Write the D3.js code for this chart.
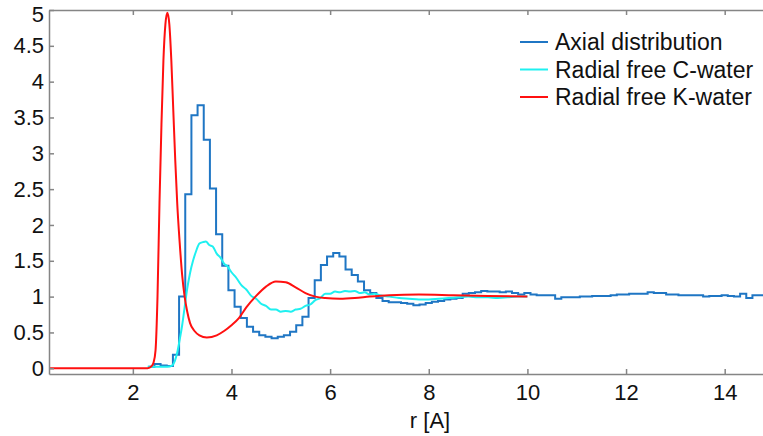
<!DOCTYPE html>
<html>
<head>
<meta charset="utf-8">
<script src="https://cdn.jsdelivr.net/npm/d3@7/dist/d3.min.js"></script>
<style>
  body { margin: 0; background: #fff; }
  text { font-family: "Liberation Sans", Arial, sans-serif; fill: #111; }
</style>
</head>
<body>
<script>
'use strict'

var w = 763;
var h = 436;

// axis ticks
var xTicks = [2, 4, 6, 8, 10, 12, 14];
var yTicks = [0, 0.5, 1, 1.5, 2, 2.5, 3, 3.5, 4, 4.5, 5];

// axial distribution: histogram, first bin edge and bin width
var axialStart = 2.3125;
var axialBin = 0.125;
var axialValues = [
  0.02, 0.06, 0.04, 0.03,
  0.19, 1.0, 2.43, 3.53, 3.67, 3.19, 2.51, 1.87, 1.43, 1.09,
  0.86, 0.70, 0.58, 0.51, 0.46, 0.44, 0.42, 0.44, 0.46, 0.51,
  0.60, 0.72, 0.98, 1.23, 1.44, 1.56, 1.61, 1.56, 1.38, 1.30,
  1.21, 1.09, 1.05, 0.98, 0.94, 0.92,
  0.92, 0.91, 0.90, 0.88, 0.89, 0.91, 0.93, 0.94, 0.96, 0.97,
  0.98, 1.04, 1.05, 1.06, 1.08, 1.07, 1.07, 1.06, 1.07, 1.05,
  1.03, 1.05, 1.03,
  1.02, 1.02, 1.02, 0.97, 0.99, 0.99, 0.99, 1.0, 1.0, 1.01,
  1.01, 1.01, 1.02, 1.03, 1.03, 1.04, 1.04, 1.04, 1.06, 1.05,
  1.05, 1.03, 1.03, 1.02, 1.02, 1.02, 1.02, 1.0, 1.01, 1.01,
  1.02, 1.01, 1.0, 1.04, 0.98, 1.02, 1.02, 1.02, 1.02
];

// radial free C-water
var cR = [2.3, 2.5, 2.7, 2.8, 2.85, 2.9, 2.95, 3.0, 3.05, 3.1, 3.16, 3.22, 3.28, 3.35, 3.42,
  3.48, 3.55, 3.62, 3.7, 3.78, 3.85, 3.92, 4.0, 4.1, 4.2, 4.3, 4.4, 4.5, 4.6, 4.7, 4.8, 4.9,
  5.0, 5.1, 5.2, 5.3, 5.4, 5.5, 5.6, 5.7, 5.8, 5.9, 6.0, 6.1, 6.2, 6.3, 6.4, 6.5, 6.6, 6.7,
  6.8, 6.9, 7.0, 7.2, 7.4, 7.6, 7.8, 8.0, 8.2, 8.4, 8.6, 8.8, 9.0, 9.2, 9.4, 9.6, 9.8, 10.0];
var cG = [0.02, 0.02, 0.02, 0.04, 0.1, 0.22, 0.4, 0.6, 0.85, 1.1, 1.33, 1.5, 1.63, 1.74, 1.76,
  1.77, 1.72, 1.70, 1.60, 1.54, 1.46, 1.42, 1.34, 1.26, 1.16, 1.10, 1.01, 0.97, 0.90, 0.87, 0.82, 0.82,
  0.79, 0.80, 0.79, 0.82, 0.83, 0.87, 0.89, 0.95, 0.98, 1.04, 1.04, 1.07, 1.06, 1.08, 1.07, 1.08, 1.05, 1.06,
  1.03, 1.04, 1.02, 1.0, 0.98, 0.97, 0.96, 0.96, 0.97, 0.98, 0.99, 1.0, 0.99, 0.99, 0.98, 0.99, 1.0, 1.0];

// radial free K-water
var kR = [0.3, 1.0, 2.0, 2.3, 2.38, 2.42, 2.46, 2.5, 2.54, 2.58, 2.62, 2.66, 2.7, 2.74, 2.78,
  2.82, 2.86, 2.9, 2.95, 3.0, 3.05, 3.1, 3.16, 3.25, 3.35, 3.5, 3.7, 3.85, 4.0, 4.15, 4.3,
  4.5, 4.7, 4.9, 5.1, 5.3, 5.5, 5.7, 5.9, 6.2, 6.5, 6.8, 7.2, 7.8, 8.5, 9.2, 10.0];
var kG = [0.0, 0.0, 0.0, 0.0, 0.03, 0.08, 0.25, 1.0, 2.3, 3.4, 4.3, 4.8, 4.96, 4.8, 4.3,
  3.6, 2.9, 2.3, 1.75, 1.3, 1.0, 0.8, 0.63, 0.52, 0.46, 0.43, 0.46, 0.52, 0.6, 0.7, 0.85,
  1.01, 1.14, 1.21, 1.2, 1.13, 1.05, 1.0, 0.98, 0.97, 0.98, 1.0, 1.02, 1.03, 1.02, 1.01, 1.0];

var seriesNames = ["Axial distribution", "Radial free C-water", "Radial free K-water"];
var seriesColors = ["#1f76c4", "#1ff0f0", "#ff1010"];

var padL = 49, padT = 10, padB = 374, padR = 811;

var x = d3.scaleLinear().domain([0.3, 15.75]).range([padL, padR]);
var y = d3.scaleLinear().domain([-0.08, 5]).range([padB, padT]);

var svg = d3.select("body").append("svg")
  .attr("width", w)
  .attr("height", h);

svg.append("clipPath").attr("id", "plot")
  .append("rect")
  .attr("x", padL).attr("y", padT - 2)
  .attr("width", padR - padL).attr("height", padB - padT + 2);

// lines
var axialPts = axialValues.map(function(v, i) { return [axialStart + i * axialBin, v]; });
axialPts.push([axialStart + axialValues.length * axialBin, axialValues[axialValues.length - 1]]);

var stairs = d3.line()
  .x(function(d) { return x(d[0]); })
  .y(function(d) { return y(d[1]); })
  .curve(d3.curveStepAfter);

var smooth = d3.line()
  .x(function(d) { return x(d[0]); })
  .y(function(d) { return y(d[1]); })
  .curve(d3.curveMonotoneX);

var lines = svg.append("g").attr("clip-path", "url(#plot)");

lines.append("path")
  .attr("d", stairs(axialPts))
  .attr("fill", "none")
  .attr("stroke", seriesColors[0])
  .attr("stroke-width", 2);

lines.append("path")
  .attr("d", smooth(d3.zip(cR, cG)))
  .attr("fill", "none")
  .attr("stroke", seriesColors[1])
  .attr("stroke-width", 2);

lines.append("path")
  .attr("d", smooth(d3.zip(kR, kG)))
  .attr("fill", "none")
  .attr("stroke", seriesColors[2])
  .attr("stroke-width", 2);

// axes (ticks pointing inward)
var axisColor = "#858585";

var gx = svg.append("g")
  .attr("transform", "translate(0," + padB + ")")
  .call(d3.axisBottom(x).tickValues(xTicks).tickSizeInner(-5).tickSizeOuter(0).tickPadding(10));

var gTop = svg.append("g")
  .attr("transform", "translate(0," + padT + ")")
  .call(d3.axisTop(x).tickValues(xTicks).tickSizeInner(-5).tickSizeOuter(0).tickFormat(""));

var gy = svg.append("g")
  .attr("transform", "translate(" + padL + ",0)")
  .call(d3.axisLeft(y).tickValues(yTicks).tickSizeInner(-5).tickSizeOuter(0).tickPadding(5)
    .tickFormat(d3.format("")));

[gx, gTop, gy].forEach(function(g) {
  g.selectAll(".domain").attr("stroke", axisColor).attr("stroke-width", 1.5);
  g.selectAll(".tick line").attr("stroke", axisColor).attr("stroke-width", 1.5);
  g.selectAll(".tick text")
    .style("font-size", "22px")
    .style("font-family", "Liberation Sans, Arial, sans-serif")
    .attr("fill", "#111");
});

// keep the top label inside the picture
gy.selectAll(".tick text").filter(function(d) { return d === 5; }).attr("dy", "0.5em");

svg.append("text")
  .attr("x", (padL + padR) / 2)
  .attr("y", 428)
  .attr("text-anchor", "middle")
  .style("font-size", "22px")
  .text("r [A]");

// legend
var legend = svg.selectAll("g.legend")
  .data(seriesNames)
  .enter()
  .append("g")
  .attr("class", "legend")
  .attr("transform", function(d, i) { return "translate(520," + (42 + i * 27.5) + ")"; });

legend.append("line")
  .attr("x1", 0).attr("x2", 28)
  .attr("stroke", function(d, i) { return seriesColors[i]; })
  .attr("stroke-width", 2);

legend.append("text")
  .attr("x", 35)
  .attr("y", 8)
  .style("font-size", "23px")
  .text(function(d) { return d; });
</script>
</body>
</html>
